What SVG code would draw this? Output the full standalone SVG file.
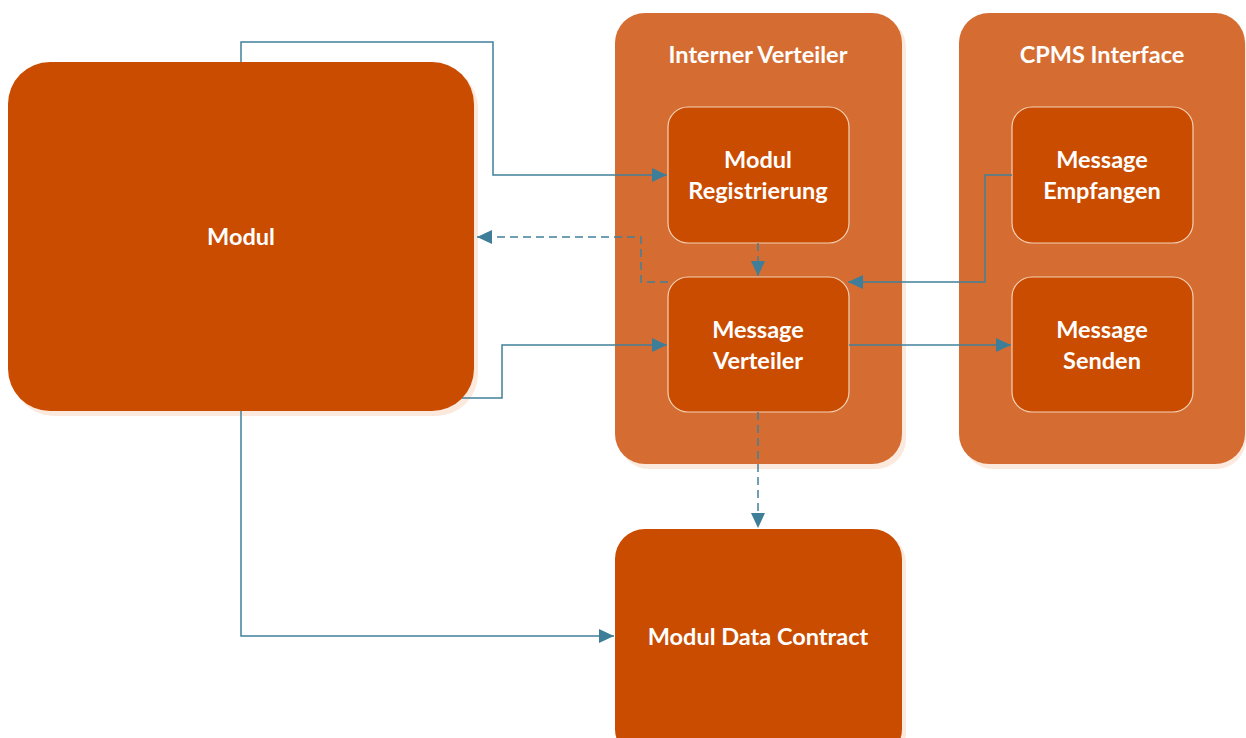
<svg xmlns="http://www.w3.org/2000/svg" width="1246" height="738" viewBox="0 0 1246 738">
<style>
.dark{fill:#C94C00}
.cont{fill:#D56D32}
.shadow{fill:#FCE9DD}
.inner{fill:#C94C00;stroke:#F6D2B8;stroke-width:1.2}
.t{font-family:Lato,"Open Sans","Liberation Sans",sans-serif;font-weight:bold;font-size:23.5px;fill:#FFFFFF;text-anchor:middle;dominant-baseline:central}
.c{fill:none;stroke:#41809A;stroke-width:1.5}
.d{stroke-dasharray:8,5}
</style>
<defs>
<marker id="ah" viewBox="0 0 15 14" refX="15" refY="7" markerWidth="15" markerHeight="14" markerUnits="userSpaceOnUse" orient="auto">
<path d="M0,0 L15,7 L0,14 Z" fill="#3F7E98"/>
</marker>
</defs>
<g id="modul">
<rect class="shadow" x="12" y="66" width="466" height="350" rx="42"/>
<rect class="dark" x="8" y="62" width="466" height="349" rx="42"/>
<text class="t" x="241" y="236">Modul</text>
</g>
<g id="interner-verteiler">
<rect class="shadow" x="619" y="17" width="287" height="452" rx="30"/>
<rect class="cont" x="615" y="13" width="287" height="451" rx="30"/>
<text class="t" x="758" y="54">Interner Verteiler</text>
</g>
<g id="cpms-interface">
<rect class="shadow" x="963" y="17" width="283" height="452" rx="30"/>
<rect class="cont" x="959" y="13" width="286" height="451" rx="30"/>
<text class="t" x="1102" y="54">CPMS Interface</text>
</g>
<g id="modul-registrierung">
<rect class="inner" x="668" y="107" width="181" height="136" rx="20"/>
<text class="t" x="758" y="159">Modul</text>
<text class="t" x="758" y="190">Registrierung</text>
</g>
<g id="message-verteiler">
<rect class="inner" x="668" y="277" width="181" height="135" rx="20"/>
<text class="t" x="758" y="329">Message</text>
<text class="t" x="758" y="360">Verteiler</text>
</g>
<g id="message-empfangen">
<rect class="inner" x="1012" y="107" width="181" height="136" rx="20"/>
<text class="t" x="1102" y="159">Message</text>
<text class="t" x="1102" y="190">Empfangen</text>
</g>
<g id="message-senden">
<rect class="inner" x="1012" y="277" width="181" height="135" rx="20"/>
<text class="t" x="1102" y="329">Message</text>
<text class="t" x="1102" y="360">Senden</text>
</g>
<g id="modul-data-contract">
<rect class="shadow" x="619" y="533" width="287" height="230" rx="30"/>
<rect class="dark" x="615" y="529" width="287" height="230" rx="30"/>
<text class="t" x="758" y="636">Modul Data Contract</text>
</g>
<g id="connectors">
<path class="c" d="M241,62 V42 H493 V175 H667" marker-end="url(#ah)"/>
<path class="c d" d="M668,282 H641 V237 H477" marker-end="url(#ah)"/>
<path class="c d" d="M758,243 V276" marker-end="url(#ah)"/>
<path class="c" d="M1012,175 H985 V282 H848" marker-end="url(#ah)"/>
<path class="c" d="M462,398 H502 V345 H667" marker-end="url(#ah)"/>
<path class="c" d="M849,345 H1011" marker-end="url(#ah)"/>
<path class="c d" d="M758,412 V528" marker-end="url(#ah)"/>
<path class="c" d="M241,411 V636 H614" marker-end="url(#ah)"/>
</g>
</svg>
